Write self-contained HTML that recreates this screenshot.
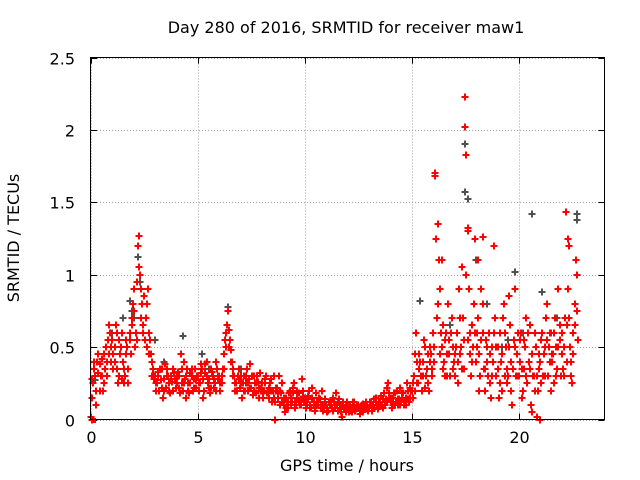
<!DOCTYPE html>
<html><head><meta charset="utf-8"><style>
html,body{margin:0;padding:0;background:#fff;}
svg{display:block;font-family:"DejaVu Sans","Liberation Sans",sans-serif;}
</style></head><body>
<svg id="chart" width="640" height="480" viewBox="0 0 640 480" xmlns="http://www.w3.org/2000/svg">
<text x="346" y="33" font-size="16" text-anchor="middle">Day 280 of 2016, SRMTID for receiver maw1</text>
<text x="347" y="471" font-size="16" text-anchor="middle">GPS time / hours</text>
<text x="19" y="238" font-size="16" text-anchor="middle" transform="rotate(-90 19 238)">SRMTID / TECUs</text>
<g id="gridLayer"></g>
<g id="tickLayer"></g>
<g id="grayLayer"></g>
<g id="redLayer"></g>
<rect x="90.5" y="57.5" width="514" height="362" fill="none" stroke="#000" stroke-width="1"/>
</svg>
<script>
const xTicks=[0,5,10,15,20];
const yTicks=[0,0.5,1,1.5,2,2.5];
const yTickLabels=["0","0.5","1","1.5","2","2.5"];
const hours=[0,0.1,0.2,0.3,0.4,0.5,0.6,0.7,0.8,0.9,1,1.1,1.2,1.3,1.4,1.5,1.6,1.7,1.8,1.9,2,2.1,2.2,2.3,2.4,2.5,2.6,2.7,2.8,2.9,3,3.1,3.2,3.3,3.4,3.5,3.6,3.7,3.8,3.9,4,4.1,4.2,4.3,4.4,4.5,4.6,4.7,4.8,4.9,5,5.1,5.2,5.3,5.4,5.5,5.6,5.7,5.8,5.9,6,6.1,6.2,6.3,6.4,6.5,6.6,6.7,6.8,6.9,7,7.1,7.2,7.3,7.4,7.5,7.6,7.7,7.8,7.9,8,8.1,8.2,8.3,8.4,8.5,8.6,8.7,8.8,8.9,9,9.1,9.2,9.3,9.4,9.5,9.6,9.7,9.8,9.9,10,10.1,10.2,10.3,10.4,10.5,10.6,10.7,10.8,10.9,11,11.1,11.2,11.3,11.4,11.5,11.6,11.7,11.8,11.9,12,12.1,12.2,12.3,12.4,12.5,12.6,12.7,12.8,12.9,13,13.1,13.2,13.3,13.4,13.5,13.6,13.7,13.8,13.9,14,14.1,14.2,14.3,14.4,14.5,14.6,14.7,14.8,14.9,15,15.1,15.2,15.3,15.4,15.5,15.6,15.7,15.8,15.9,16,16.1,16.2,16.3,16.4,16.5,16.6,16.7,16.8,16.9,17,17.1,17.2,17.3,17.4,17.5,17.6,17.7,17.8,17.9,18,18.1,18.2,18.3,18.4,18.5,18.6,18.7,18.8,18.9,19,19.1,19.2,19.3,19.4,19.5,19.6,19.7,19.8,19.9,20,20.1,20.2,20.3,20.4,20.5,20.6,20.7,20.8,20.9,21,21.1,21.2,21.3,21.4,21.5,21.6,21.7,21.8,21.9,22,22.1,22.2,22.3,22.4,22.5,22.6,22.7];
const redA=[0.02,0.25,0.3,0.4,0.2,0.3,0.45,0.5,0.55,0.6,
0.55,0.4,0.6,0.3,0.5,0.4,0.3,0.5,0.6,0.7,
0.9,0.6,1.2,1.0,0.8,0.85,0.5,0.6,0.45,0.35,
0.3,0.25,0.2,0.35,0.28,0.22,0.3,0.18,0.26,0.32,
0.25,0.3,0.45,0.2,0.28,0.35,0.18,0.3,0.22,0.27,
0.3,0.25,0.35,0.2,0.4,0.28,0.22,0.3,0.25,0.35,
0.3,0.25,0.45,0.6,0.75,0.55,0.4,0.3,0.25,0.35,
0.3,0.25,0.2,0.35,0.28,0.22,0.3,0.18,0.26,0.32,
0.25,0.2,0.3,0.15,0.28,0.2,0.12,0.22,0.3,0.18,
0.1,0.15,0.08,0.2,0.12,0.25,0.1,0.18,0.14,0.2,
0.15,0.1,0.2,0.08,0.12,0.18,0.1,0.14,0.2,0.08,
0.1,0.06,0.12,0.15,0.08,0.1,0.14,0.05,0.12,0.09,
0.08,0.1,0.05,0.12,0.07,0.1,0.06,0.11,0.08,0.1,
0.08,0.12,0.1,0.15,0.07,0.12,0.1,0.18,0.14,0.25,
0.12,0.15,0.1,0.2,0.14,0.12,0.18,0.1,0.2,0.15,
0.2,0.3,0.6,0.25,0.4,0.3,0.5,0.35,0.2,0.45,
0.6,1.7,1.35,0.9,0.5,0.4,0.6,0.8,0.3,0.5,
0.3,0.6,0.9,0.5,0.7,2.23,1.3,0.6,0.4,0.8,
0.4,0.7,0.3,0.8,0.2,0.5,0.6,0.15,0.4,0.7,
0.35,0.6,0.2,0.8,0.5,0.3,0.65,0.1,0.9,0.45,
0.3,0.6,0.2,0.5,0.25,0.65,0.05,0.3,0.5,0.2,
0.4,0.6,0.3,0.8,0.5,0.2,0.45,0.7,0.35,0.55,
0.6,0.3,1.43,0.9,0.5,0.25,0.8,1.0];
const redB=[0.15,0.35,0.1,0.45,0.3,0.2,0.35,0.4,0.65,0.5,
0.35,0.65,0.25,0.45,0.6,0.25,0.55,0.35,0.45,0.8,
0.5,0.95,1.27,0.7,0.65,0.7,0.9,0.55,0.4,0.3,
0.2,0.33,0.27,0.15,0.38,0.3,0.2,0.28,0.35,0.22,
0.33,0.18,0.25,0.4,0.15,0.25,0.32,0.2,0.35,0.3,
0.2,0.38,0.15,0.32,0.25,0.18,0.33,0.22,0.4,0.28,
0.2,0.35,0.55,0.65,0.5,0.4,0.3,0.2,0.3,0.22,
0.15,0.3,0.25,0.2,0.38,0.17,0.25,0.3,0.15,0.22,
0.15,0.28,0.2,0.25,0.12,0.3,0.2,0.15,0.1,0.25,
0.05,0.12,0.18,0.1,0.22,0.08,0.15,0.1,0.28,0.12,
0.08,0.16,0.1,0.22,0.06,0.12,0.15,0.08,0.1,0.14,
0.05,0.1,0.08,0.12,0.18,0.06,0.1,0.02,0.08,0.12,
0.05,0.08,0.12,0.06,0.09,0.04,0.1,0.07,0.12,0.06,
0.1,0.06,0.14,0.1,0.12,0.16,0.08,0.12,0.22,0.15,
0.08,0.18,0.12,0.1,0.22,0.15,0.1,0.25,0.12,0.2,
0.15,0.45,0.25,0.35,0.2,0.55,0.3,0.25,0.5,0.3,
0.4,0.7,1.1,0.6,0.35,0.55,0.3,0.45,0.7,0.4,
0.5,0.25,0.45,1.05,0.35,1.83,0.9,0.3,0.5,1.25,
0.6,0.2,0.9,0.35,0.55,0.3,0.25,0.5,1.2,0.3,
0.15,0.4,0.7,0.3,0.25,0.85,0.2,0.55,0.3,0.6,
0.55,0.15,0.35,0.7,0.4,0.1,0.3,0.6,0.02,0.45,
0.25,0.45,0.7,0.3,0.6,0.4,0.25,0.5,0.9,0.3,
0.35,0.7,0.4,1.2,0.3,0.6,1.1,0.55];
const redC=[0.28,0.4,0.2,0.32,0.38,0.42,0.25,0.3,0.45,0.4,
0.45,0.5,0.35,0.55,0.28,0.35,0.45,0.25,0.55,0.65,
0.75,0.55,1.05,0.9,0.6,0.55,0.8,0.45,0.3,0.28,
0.25,0.3,0.35,0.22,0.2,0.35,0.25,0.3,0.2,0.28,
0.3,0.22,0.35,0.25,0.3,0.2,0.25,0.35,0.28,0.22,
0.25,0.32,0.28,0.38,0.3,0.22,0.35,0.28,0.2,0.3,
0.25,0.3,0.35,0.5,0.62,0.48,0.35,0.25,0.2,0.28,
0.25,0.2,0.3,0.25,0.22,0.3,0.2,0.25,0.22,0.2,
0.2,0.25,0.18,0.22,0.2,0.15,0.22,0.18,0.2,0.12,
0.15,0.08,0.12,0.15,0.18,0.12,0.2,0.12,0.1,0.15,
0.12,0.14,0.08,0.15,0.1,0.09,0.12,0.1,0.06,0.12,
0.08,0.12,0.1,0.06,0.1,0.12,0.08,0.1,0.07,0.05,
0.1,0.06,0.09,0.08,0.1,0.08,0.09,0.05,0.1,0.08,
0.12,0.09,0.08,0.12,0.1,0.09,0.14,0.1,0.12,0.18,
0.15,0.1,0.18,0.14,0.1,0.18,0.12,0.15,0.14,0.22,
0.25,0.2,0.4,0.45,0.3,0.4,0.22,0.45,0.4,0.35,
0.5,1.25,0.8,0.45,0.65,0.3,0.45,0.55,0.6,0.35,
0.45,0.4,0.7,0.35,0.55,1.0,0.55,0.45,0.65,0.6,
0.5,0.45,0.55,0.6,0.35,0.4,0.45,0.3,0.6,0.5,
0.5,0.25,0.45,0.6,0.35,0.5,0.4,0.35,0.5,0.3,
0.4,0.35,0.55,0.3,0.6,0.35,0.45,0.2,0.3,0.35,
0.55,0.3,0.5,0.55,0.4,0.45,0.6,0.3,0.5,0.65,
0.45,0.5,0.65,0.7,0.4,0.45,0.65,0.75];
const redExtraH=[17.5,16.1,0.05,8.6,21.0,22.3,17.6,18.3,18.1,16.4];
const redExtraY=[2.02,1.68,0.0,0.0,0.0,1.25,1.32,1.26,1.1,1.1];
const grayH=[0.2,1.0,1.8,2.2,2.3,3.0,4.3,6.4,7.0,12.0,15.4,16.4,17.5,17.5,17.6,18.0,18.5,19.8,20.6,21.1,21.5,22.7,22.7,1.5,5.5,9.0,14.2,19.2,1.9,2.0,3.4,5.2,16.8,19.5,20.2,21.8];
const grayY=[0.27,0.6,0.82,1.12,0.95,0.55,0.58,0.78,0.35,0.1,0.82,1.1,1.57,1.9,1.52,1.1,0.8,1.02,1.42,0.88,0.6,1.42,1.38,0.7,0.35,0.15,0.18,0.5,0.75,0.7,0.4,0.45,0.65,0.55,0.6,0.7];

const X0=91,X1=604.5,Y0=419.5,Y1=57.5;
const xs=h=>X0+(h/24)*(X1-X0);
const ys=v=>Y0-(v/2.5)*(Y0-Y1);
const NS="http://www.w3.org/2000/svg";
function mk(tag,parent){const e=document.createElementNS(NS,tag);parent.appendChild(e);return e;}
const gridG=document.getElementById('gridLayer'),tickG=document.getElementById('tickLayer');
xTicks.forEach(t=>{
  const x=Math.round(xs(t))+0.5;
  const g=mk('line',gridG);
  
  
  g.setAttribute('x1',x);g.setAttribute('x2',x);g.setAttribute('y1',Y1);g.setAttribute('y2',Y0);
  g.setAttribute('stroke','#a0a0a0');g.setAttribute('stroke-dasharray','1,2');
  const tk=mk('path',tickG);
  
  
  tk.setAttribute('d',`M${x},${Y0}v-6M${x},${Y1}v6`);tk.setAttribute('stroke','#000');
  const l=mk('text',tickG);
  
  
  l.setAttribute('x',x);l.setAttribute('y',443);l.setAttribute('font-size','16');l.setAttribute('text-anchor','middle');
  l.textContent=String(t);
});
yTicks.forEach((t,i)=>{
  const y=Math.round(ys(t))+0.5;
  const g=mk('line',gridG);
  
  
  g.setAttribute('x1',X0);g.setAttribute('x2',X1);g.setAttribute('y1',y);g.setAttribute('y2',y);
  g.setAttribute('stroke','#a0a0a0');g.setAttribute('stroke-dasharray','1,2');
  const tk=mk('path',tickG);
  
  
  tk.setAttribute('d',`M${X0},${y}h6M${X1},${y}h-6`);tk.setAttribute('stroke','#000');
  const l=mk('text',tickG);
  
  
  l.setAttribute('x',75);l.setAttribute('y',y+6);l.setAttribute('font-size','16');l.setAttribute('text-anchor','end');
  l.textContent=yTickLabels[i];
});
function plus(parent,h,v,color,name){
  const x=Math.round(xs(h)),y=Math.round(ys(v));
  const p=mk('path',parent);
  
  
  p.setAttribute('d',`M${x-3.5},${y}h7M${x},${y-3.5}v7`);
  p.setAttribute('fill','none');
  p.setAttribute('style',`stroke:${color};stroke-width:1.6px`);
  p.setAttribute('shape-rendering','crispEdges');
}
const grayG=document.getElementById('grayLayer'),redG=document.getElementById('redLayer');
grayH.forEach((h,i)=>plus(grayG,h,grayY[i],'#505050','gray-point'));
hours.forEach((h,i)=>{
  plus(redG,h,redA[i],'#ff0000','red-point');
  plus(redG,h+0.05,redB[i],'#ff0000','red-point');
  plus(redG,h+0.03,redC[i],'#ff0000','red-point');
});
redExtraH.forEach((h,i)=>plus(redG,h,redExtraY[i],'#ff0000','red-point'));
const sq=mk('rect',redG);


sq.setAttribute('x',Math.round(xs(0.05))-1);sq.setAttribute('y',Math.round(ys(0))-2);
sq.setAttribute('width',5);sq.setAttribute('height',5);sq.setAttribute('fill','#ff0000');
</script>
</body></html>
